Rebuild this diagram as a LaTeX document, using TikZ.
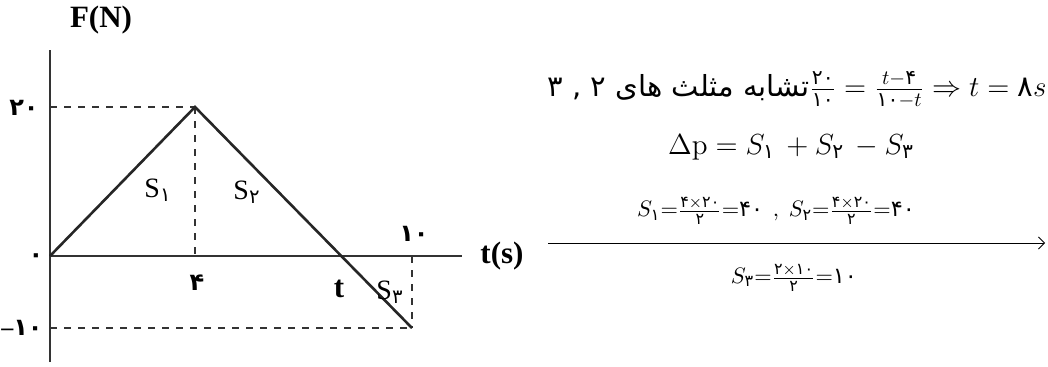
\documentclass[tikz,border=0pt]{standalone}
\usepackage{fix-cm}
\usepackage{amsmath}
\usepackage{fontspec}
\newfontfamily\timesf{Liberation Serif}
\newfontfamily\arabicfont[Script=Arabic]{DejaVu Sans}
\TeXXeTstate=1
\usetikzlibrary{arrows.meta, positioning}
\newcommand\fa[1]{\text{\arabicfont #1}}

\begin{document}
\begin{tikzpicture}[
 x=0.5pt, y=-0.5pt,
 axis/.style={line width=1pt, black!80},
 graph/.style={line width=1.3pt, black!85},
 guide/.style={dash pattern=on 3.5pt off 3.5pt, line width=0.7pt, black!80},
 lbl/.style={font=\timesf\fontsize{15.5}{17}\selectfont\bfseries},
 area/.style={font=\timesf\fontsize{14}{16}\selectfont},
 num/.style={font=\arabicfont\fontsize{12}{14}\selectfont\bfseries},
 eq/.style={font=\fontsize{14.5}{17}\selectfont},
 small/.style={font=\fontsize{16}{18}\selectfont},
 arrow/.style={-{Straight Barb[length=3pt]}, line width=0.4pt}
]
\useasboundingbox (0,0) rectangle (1048,366);

% axes
\coordinate (ybot) at (50,362);
\coordinate (ytop) at (50,50);
\coordinate (O) at (50,256);
\coordinate (xend) at (462,256);
\draw[axis] (ybot) -- (ytop);
\draw[axis] (O) -- (xend);

% force curve
\coordinate (peak) at (195,107);
\coordinate (tcut) at (340,256);
\coordinate (fin) at (412,328);
\coordinate (y20) at (50,107);
\coordinate (y10) at (50,328);
\coordinate (x4) at (195,256);
\coordinate (x10) at (412,256);
\draw[guide] (y20) -- (peak);
\draw[guide] (peak) -- (x4);
\draw[guide] (y10) -- (fin);
\draw[guide] (x10) -- (fin);
\draw[graph] (O) -- (peak) -- (fin);

% axis labels
\node[lbl] (fn) at (101,20) {F(N)};
\node[lbl] (ts) at (502,256) {t(s)};
\node[num] (n20) at (24,108) {۲۰};
\node[num] (n10m) at (22,328) {{\timesf\bfseries –}۱۰};
\node[num] (n0) at (36,258) {۰};
\node[num] (n4) at (197,283) {۴};
\node[lbl] (nt) at (339,289) {t};
\node[num] (n10) at (414,234) {۱۰};

% areas
\node[area] (s1) at (158,190) {S$_{\fa{۱}}$};
\node[area] (s2) at (247,192) {S$_{\fa{۲}}$};
\node[area] (s3) at (390,292) {S$_{\fa{۳}}$};

% solution
\node[eq] (sim) at (797,90) {\arabicfont\beginR تشابه مثلث های ۲ , ۳\endR$\frac{\fa{۲۰}}{\fa{۱۰}} = \frac{t-\fa{۴}}{\fa{۱۰}-t} \Rightarrow t = \fa{۸}s$};
\node[eq] (dp) at (791,147) {$\Delta\mathrm{p} = S_{\fa{۱}}\, + S_{\fa{۲}}\, - S_{\fa{۳}}$};
\node[small] (up) at (776,211) {$\scriptstyle S_{\fa{۱}}=\frac{\fa{۴}\times\fa{۲۰}}{\fa{۲}}=\fa{۴۰}\ ,\ S_{\fa{۲}}=\frac{\fa{۴}\times\fa{۲۰}}{\fa{۲}}=\fa{۴۰}$};
\node[small] (down) at (794,278) {$\scriptstyle S_{\fa{۳}}=\frac{\fa{۲}\times\fa{۱۰}}{\fa{۲}}=\fa{۱۰}$};
\coordinate (a1) at (548,243);
\coordinate (a2) at (1045,243);
\draw[arrow] (a1) -- (a2);
\end{tikzpicture}
\end{document}
